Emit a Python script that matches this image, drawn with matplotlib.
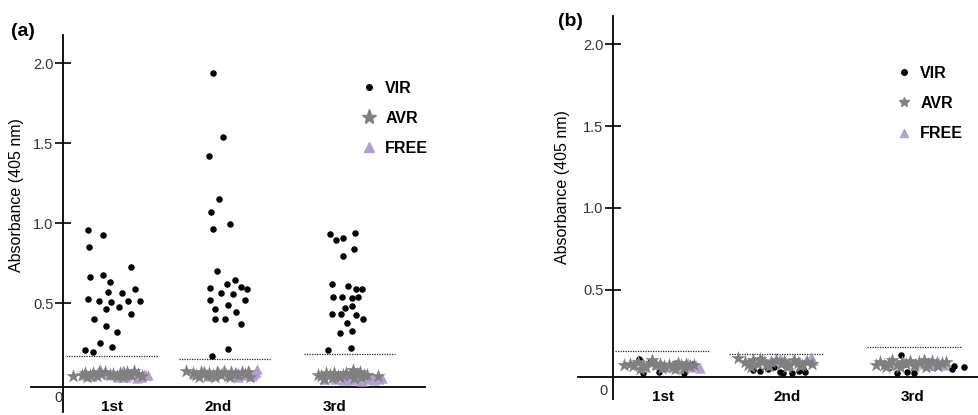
import matplotlib
matplotlib.use("Agg")
import matplotlib.pyplot as plt
from matplotlib.lines import Line2D
import numpy as np

plt.rcParams["font.family"] = ["Liberation Sans", "DejaVu Sans"]

ROUNDS = ["1st", "2nd", "3rd"]
SERIES = ["VIR", "AVR", "FREE"]

# ---------------------------------------------------------------------------
# Panel (a): absorbance per round; dx = horizontal scatter offset in the column
# ---------------------------------------------------------------------------
a_vir_y = [
    [0.96, 0.929, 0.854, 0.725, 0.664, 0.675, 0.631, 0.588, 0.569, 0.5625,
     0.527, 0.516, 0.508, 0.5125, 0.5125, 0.4625, 0.477, 0.435, 0.40, 0.358,
     0.321, 0.254, 0.225, 0.21, 0.1975],
    [1.94, 1.541, 1.4225, 1.152, 1.071, 0.964, 0.996, 0.70, 0.646, 0.594,
     0.619, 0.60, 0.5875, 0.566, 0.558, 0.52, 0.5225, 0.489, 0.4625, 0.444,
     0.40, 0.402, 0.369, 0.216, 0.1725],
    [0.933, 0.9375, 0.894, 0.908, 0.8375, 0.796, 0.619, 0.61, 0.591, 0.591,
     0.541, 0.541, 0.531, 0.5375, 0.483, 0.4725, 0.431, 0.431, 0.425, 0.404,
     0.379, 0.316, 0.329, 0.208, 0.2225],
]
a_vir_dx = [
    [-0.205, -0.074, -0.197, 0.162, -0.191, -0.074, -0.017, 0.197, -0.037, 0.088,
     -0.205, -0.114, -0.006, 0.137, 0.237, -0.051, 0.060, 0.165, -0.154, -0.049,
     0.043, -0.105, -0.003, -0.234, -0.162],
    [-0.094, -0.008, -0.128, -0.045, -0.111, -0.094, 0.051, -0.063, 0.089, -0.122,
     0.020, 0.140, 0.197, -0.026, 0.071, -0.122, 0.177, 0.031, -0.083, 0.102,
     -0.083, 0.008, 0.140, 0.029, -0.105],
    [-0.164, 0.050, -0.112, -0.056, 0.041, -0.053, -0.150, -0.013, 0.055, 0.107,
     -0.141, -0.067, 0.018, 0.075, 0.024, -0.036, -0.147, -0.070, 0.053, 0.118,
     -0.021, -0.084, 0.024, -0.184, 0.010],
]
a_avr_y = [
    [0.045, 0.055, 0.062, 0.05, 0.066, 0.048, 0.057, 0.070, 0.052, 0.060, 0.047,
     0.066, 0.058, 0.072, 0.052, 0.078, 0.056, 0.046, 0.040, 0.042, 0.068, 0.05],
    [0.075, 0.065, 0.05, 0.07, 0.058, 0.067, 0.05, 0.072, 0.055, 0.064, 0.048,
     0.07, 0.06, 0.052, 0.068, 0.058, 0.04, 0.042, 0.04, 0.042, 0.07, 0.045],
    [0.055, 0.045, 0.062, 0.05, 0.066, 0.048, 0.055, 0.065, 0.05, 0.082,
     0.06, 0.068, 0.055, 0.05, 0.048, 0.03, 0.04, 0.035, 0.04, 0.035],
]
a_avr_dx = [
    [-0.33, -0.26, -0.23, -0.19, -0.16, -0.13, -0.09, -0.06, -0.02, 0.01, 0.04,
     0.07, 0.10, 0.13, 0.16, 0.19, 0.22, 0.26, -0.21, 0.09, -0.11, 0.14],
    [-0.33, -0.27, -0.24, -0.20, -0.17, -0.13, -0.10, -0.06, -0.03, 0.0, 0.03,
     0.06, 0.09, 0.12, 0.15, 0.18, 0.22, -0.22, -0.08, 0.05, 0.20, -0.15],
    [-0.27, -0.24, -0.20, -0.17, -0.13, -0.10, -0.06, -0.03, 0.0, 0.03,
     0.06, 0.09, 0.12, 0.15, 0.24, -0.22, -0.08, 0.04, 0.10, -0.15],
]
a_free_y = [
    [0.05, 0.09, 0.06, 0.055, 0.085, 0.06, 0.075, 0.045, 0.06, 0.05, 0.045,
     0.04, 0.04, 0.035, 0.04, 0.055],
    [0.06, 0.085, 0.08, 0.09, 0.06, 0.07, 0.055, 0.08, 0.06, 0.09, 0.045,
     0.04, 0.045, 0.07],
    [0.03, 0.025, 0.02, 0.018, 0.025, 0.02, 0.03, 0.025, 0.02, 0.028, 0.035,
     0.035, 0.015, 0.04],
]
a_free_dx = [
    [-0.24, -0.10, -0.04, 0.02, 0.09, 0.15, 0.19, 0.23, 0.27, 0.31, -0.17,
     0.05, 0.12, 0.21, 0.25, 0.29],
    [-0.26, -0.17, -0.05, 0.0, 0.05, 0.10, 0.16, 0.21, 0.25, 0.28, -0.12,
     0.12, 0.24, 0.27],
    [-0.22, -0.12, -0.06, 0.0, 0.05, 0.09, 0.13, 0.17, 0.21, 0.25, 0.28,
     -0.02, 0.11, 0.19],
]
a_cutoff = [0.1725, 0.152, 0.181]

# ---------------------------------------------------------------------------
# Panel (b)
# ---------------------------------------------------------------------------
b_vir_y = [
    [0.079, -0.008, 0.063, -0.002, 0.057, -0.008, 0.049, 0.04, 0.035, 0.03],
    [0.012, 0.006, 0.018, 0.002, -0.004, -0.008, 0.004, 0.016, -0.003, 0.03, 0.035],
    [0.104, -0.008, -0.002, -0.004, 0.037, 0.02, 0.032, 0.03, 0.035, 0.03],
]
b_vir_dx = [
    [-0.19, -0.16, -0.10, -0.025, 0.117, 0.18, 0.26, -0.05, 0.05, 0.15],
    [-0.19, -0.133, -0.07, 0.033, 0.058, 0.133, 0.19, 0.225, 0.242, -0.02, 0.1],
    [-0.108, -0.144, -0.06, 0.0, 0.336, 0.318, 0.42, -0.2, 0.08, 0.15],
]
b_avr_y = [
    [0.043, 0.05, 0.035, 0.06, 0.045, 0.03, 0.055, 0.04, 0.05, 0.035, 0.045,
     0.03, 0.055, 0.04, 0.05, 0.035, 0.045, 0.02, 0.025, 0.02, 0.025, 0.07],
    [0.085, 0.06, 0.045, 0.07, 0.05, 0.065, 0.045, 0.06, 0.075, 0.05, 0.065,
     0.045, 0.07, 0.055, 0.04, 0.06, 0.05, 0.03, 0.035, 0.03, 0.035, 0.08],
    [0.045, 0.06, 0.04, 0.055, 0.07, 0.045, 0.06, 0.05, 0.065, 0.045, 0.06,
     0.07, 0.05, 0.065, 0.045, 0.055, 0.06, 0.03, 0.03, 0.035, 0.03, 0.035],
]
b_avr_dx = [
    [-0.32, -0.27, -0.24, -0.20, -0.16, -0.13, -0.09, -0.05, -0.02, 0.02, 0.06,
     0.09, 0.13, 0.16, 0.20, 0.23, 0.27, -0.18, 0.0, 0.11, 0.18, -0.08],
    [-0.32, -0.26, -0.23, -0.19, -0.15, -0.12, -0.08, -0.04, 0.0, 0.04, 0.07,
     0.11, 0.15, 0.18, 0.22, 0.26, 0.30, -0.21, -0.06, 0.09, 0.20, -0.13],
    [-0.32, -0.28, -0.25, -0.21, -0.18, -0.14, -0.10, -0.07, -0.03, 0.01, 0.04,
     0.08, 0.12, 0.15, 0.19, 0.23, 0.27, -0.23, -0.12, 0.0, 0.10, 0.2],
]
b_free_y = [
    [0.03, 0.05, 0.03, 0.04, 0.025, 0.045, 0.03, 0.04, 0.025, 0.05, 0.055],
    [0.06, 0.07, 0.07, 0.085, 0.06, 0.075, 0.065, 0.07, 0.09, 0.075, 0.045],
    [0.05, 0.06, 0.055, 0.05, 0.06, 0.07, 0.05, 0.06, 0.04, 0.045],
]
b_free_dx = [
    [-0.15, -0.05, 0.03, 0.08, 0.14, 0.19, 0.24, 0.28, 0.32, 0.12, 0.22],
    [-0.20, -0.10, 0.0, 0.03, 0.08, 0.14, 0.19, 0.25, 0.29, 0.31, 0.11],
    [-0.20, -0.08, 0.02, 0.09, 0.15, 0.19, 0.23, 0.27, 0.13, 0.25],
]
b_cutoff = [0.13, 0.11, 0.15]

# ---------------------------------------------------------------------------
# Styling
# ---------------------------------------------------------------------------
GREY = "#808080"
LAVENDER = "#b4a0cc"
TEXT = "#333333"
STYLE = {
    "VIR": dict(marker="o", s=22, color="black", linewidths=0, zorder=2),
    "FREE": dict(marker="^", s=55, color=LAVENDER, linewidths=0, zorder=3),
    "AVR": dict(marker="*", s=115, color=GREY, linewidths=0, zorder=4),
}

W, H = 979, 415


def draw_panel(ax, groups, cutoffs, centers, label_x, xlim, ylim, x_axis_y,
               x_axis_left, zero_xy, legend_anchor, legend_ms):
    for g, c in enumerate(centers):
        for key in ("VIR", "FREE", "AVR"):
            dx, y = groups[key]
            ax.scatter(c + np.asarray(dx[g]), y[g], **STYLE[key])
        ax.hlines(cutoffs[g], c - 0.39, c + 0.39, colors="#222222",
                  linestyles=(0, (1, 1)), lw=0.9, zorder=1)

    ax.set_xlim(*xlim)
    ax.set_ylim(*ylim)
    for side in ("top", "right", "bottom"):
        ax.spines[side].set_visible(False)
    ax.spines["left"].set_linewidth(1.3)
    ax.set_xticks([])
    ax.set_yticks([0.5, 1.0, 1.5, 2.0])
    ax.set_yticklabels(["0.5", "1.0", "1.5", "2.0"])
    ax.tick_params(axis="y", direction="inout", length=12, width=1.2,
                   pad=1, labelsize=10.5, labelcolor=TEXT)
    ax.patch.set_alpha(0)

    frac = (x_axis_left - xlim[0]) / (xlim[1] - xlim[0])
    ax.axhline(x_axis_y, xmin=frac, xmax=1, color="black", lw=1.3,
               clip_on=False, zorder=1)

    for pos, name in zip(label_x, ROUNDS):
        ax.text(pos, -0.15, name, ha="center", va="center",
                fontsize=11, fontweight="bold")
    ax.text(zero_xy[0], zero_xy[1], "0", ha="center", va="center",
            fontsize=10.5, color=TEXT)

    ms = legend_ms
    handles = [
        Line2D([], [], ls="", marker="o", ms=ms[0], color="black"),
        Line2D([], [], ls="", marker="*", ms=ms[1], color=GREY),
        Line2D([], [], ls="", marker="^", ms=ms[2], color=LAVENDER),
    ]
    ax.legend(handles, SERIES, loc="upper left", bbox_to_anchor=legend_anchor,
              frameon=False, handlelength=1.0, handletextpad=0.5,
              labelspacing=0.95, borderpad=0, borderaxespad=0,
              prop={"weight": "bold", "size": 11.5})


fig = plt.figure(figsize=(W / 100, H / 100), dpi=100)

ax_a = fig.add_axes([63 / W, 3 / H, 362 / W, 377 / H])
draw_panel(
    ax_a,
    {"VIR": (a_vir_dx, a_vir_y), "AVR": (a_avr_dx, a_avr_y),
     "FREE": (a_free_dx, a_free_y)},
    a_cutoff,
    centers=[0.0, 0.96, 2.03],
    label_x=[0.0, 0.906, 1.906],
    xlim=(-0.419, 2.675),
    ylim=(-0.179, 2.177),
    x_axis_y=-0.023,
    x_axis_left=-0.692,
    zero_xy=(-0.46, -0.092),
    legend_anchor=(0.824, 0.879),
    legend_ms=(4, 11, 7),
)

ax_b = fig.add_axes([613 / W, 16 / H, 366 / W, 383 / H])
draw_panel(
    ax_b,
    {"VIR": (b_vir_dx, b_vir_y), "AVR": (b_avr_dx, b_avr_y),
     "FREE": (b_free_dx, b_free_y)},
    b_cutoff,
    centers=[0.0, 0.95, 2.10],
    label_x=[0.008, 1.04, 2.09],
    xlim=(-0.408, 2.642),
    ylim=(-0.165, 2.171),
    x_axis_y=-0.03,
    x_axis_left=-0.70,
    zero_xy=(-0.49, -0.116),
    legend_anchor=(0.774, 0.870),
    legend_ms=(4, 7, 6),
)

fig.text(17 / W, 1 - 195 / H, "Absorbance (405 nm)", rotation=90,
         ha="center", va="center", fontsize=11.5)
fig.text(563 / W, 1 - 187 / H, "Absorbance (405 nm)", rotation=90,
         ha="center", va="center", fontsize=11.5)
fig.text(23 / W, 1 - 31 / H, "(a)", ha="center", va="center",
         fontsize=14, fontweight="bold")
fig.text(570 / W, 1 - 22 / H, "(b)", ha="center", va="center",
         fontsize=14, fontweight="bold")

fig.savefig("out.png", dpi=100)
